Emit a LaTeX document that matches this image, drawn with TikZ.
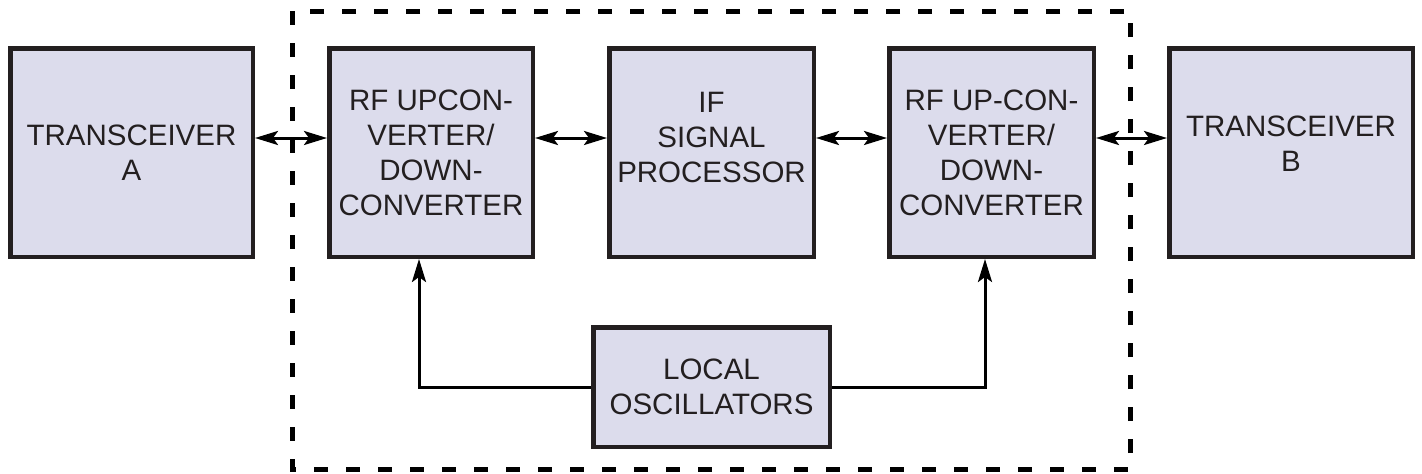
\documentclass[tikz,border=0pt]{standalone}
\usepackage{fontspec}
\setmainfont{Liberation Sans}
\usetikzlibrary{arrows.meta}
\definecolor{boxfill}{HTML}{DCDCEC}
\definecolor{ink}{HTML}{231F20}
\tikzset{
  blk/.style={draw=ink, fill=boxfill, line width=4.5pt, align=center, text=ink,
    font=\fontsize{29.5}{35}\selectfont, inner sep=0pt},
  conn/.style={line width=3pt, -{Stealth[length=23pt, width=14pt, inset=5pt]}},
  dbl/.style={line width=3pt, {Stealth[length=23pt, width=14pt, inset=5pt]}-{Stealth[length=23pt, width=14pt, inset=5pt]}},
  frame/.style={line width=5pt, dash pattern=on 14pt off 18pt}
}
\begin{document}
\begin{tikzpicture}[x=1pt, y=-1pt]
\useasboundingbox (0,0) rectangle (1422,474);
\draw[frame] (292,11) rectangle (1130,469);
\node[blk, minimum width=242.5pt, minimum height=208.5pt] (ta) at (131.5,152.5) {TRANSCEIVER\\A};
\node[blk, minimum width=203.5pt, minimum height=208.5pt] (rf1) at (431,152.5) {RF UPCON-\\VERTER/\\DOWN-\\CONVERTER};
\node[blk, minimum width=204.5pt, minimum height=208.5pt, text depth=30pt] (ifp) at (711.5,152.5) {IF\\SIGNAL\\PROCESSOR};
\node[blk, minimum width=204.5pt, minimum height=208.5pt] (rf2) at (991.5,152.5) {RF UP-CON-\\VERTER/\\DOWN-\\CONVERTER};
\node[blk, minimum width=243.5pt, minimum height=208.5pt, text depth=17pt] (tb) at (1291,152.5) {TRANSCEIVER\\B};
\node[blk, minimum width=236.5pt, minimum height=119.5pt] (lo) at (711.5,387) {LOCAL\\OSCILLATORS};
\draw[dbl] ([yshift=14.5pt]ta.east) -- ([yshift=14.5pt]rf1.west);
\draw[dbl] ([yshift=14.5pt]rf1.east) -- ([yshift=14.5pt]ifp.west);
\draw[dbl] ([yshift=14.5pt]ifp.east) -- ([yshift=14.5pt]rf2.west);
\draw[dbl] ([yshift=14.5pt]rf2.east) -- ([yshift=14.5pt]tb.west);
\draw[conn] (lo.west) -| ([xshift=-12pt]rf1.south);
\draw[conn] (lo.east) -| ([xshift=-6.5pt]rf2.south);
\end{tikzpicture}
\end{document}
